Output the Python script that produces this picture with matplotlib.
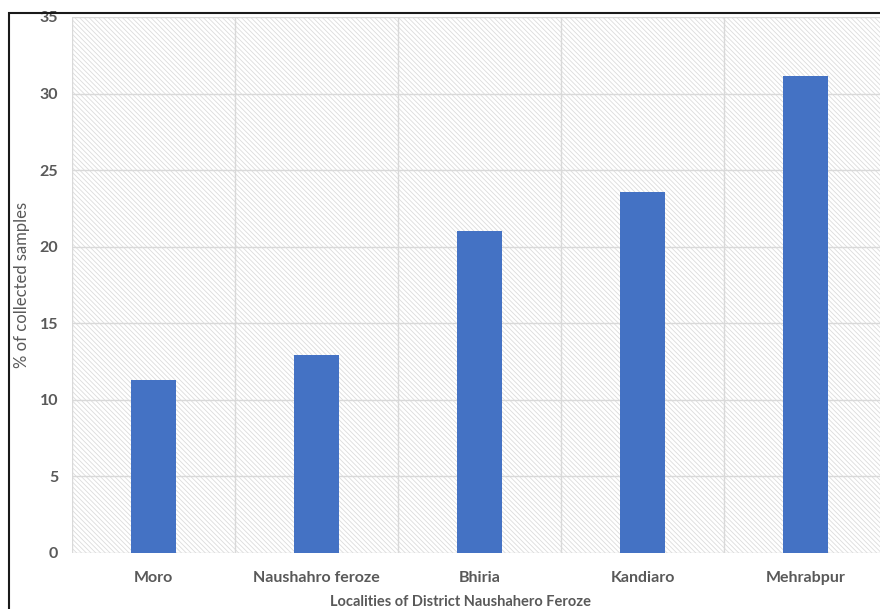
import matplotlib.pyplot as plt
from matplotlib.patches import Rectangle

localities = ['Moro', 'Naushahro feroze', 'Bhiria', 'Kandiaro', 'Mehrabpur']
percent_samples = [11.3, 12.9, 21.0, 23.6, 31.15]
y_ticks = [0, 5, 10, 15, 20, 25, 30, 35]

plt.rcParams['font.family'] = ['Lato', 'DejaVu Sans']
plt.rcParams['hatch.color'] = '#dcdcdc'
plt.rcParams['hatch.linewidth'] = 0.6

W, H = 880, 609
fig = plt.figure(figsize=(W / 100, H / 100), dpi=100)
ax = fig.add_axes([72 / W, 1 - 553 / H, (887 - 72) / W, (553 - 17) / H])

ax.patch.set_facecolor('white')
ax.patch.set_hatch('\\' * 7)
ax.patch.set_edgecolor('#dcdcdc')

x = range(len(localities))
ax.bar(x, percent_samples, width=0.28, color='#4472C4', zorder=3)

ax.set_xlim(-0.5, len(localities) - 0.5)
ax.set_ylim(0, 35)
ax.set_yticks(y_ticks)
ax.set_xticks(list(x))
ax.set_xticklabels(localities)
ax.set_xticks([i - 0.5 for i in range(len(localities) + 1)], minor=True)

ax.grid(True, axis='y', which='major', color='#d9d9d9', linewidth=1, zorder=1)
ax.grid(True, axis='x', which='minor', color='#d9d9d9', linewidth=1, zorder=1)
ax.set_axisbelow(True)
for s in ax.spines.values():
    s.set_visible(False)

ax.tick_params(axis='both', which='both', length=0)
ax.tick_params(axis='y', pad=10, labelsize=11.5, labelcolor='#595959')
ax.tick_params(axis='x', pad=13, labelsize=11.5, labelcolor='#595959')
for lab in ax.get_xticklabels() + ax.get_yticklabels():
    lab.set_fontweight('bold')

fig.text(22 / W, 1 - 285 / H, '% of collected samples', rotation=90,
         ha='center', va='center', fontsize=12, color='#595959')
fig.text(460 / W, 1 - 595 / H, 'Localities of District Naushahero Feroze',
         ha='center', va='top', fontsize=10.5, color='#595959', fontweight='bold')

# outer chart border (cropped on right and bottom)
fig.patches.append(Rectangle((9 / W, -0.1), 1.2, 1 - 12.5 / H + 0.1,
                             transform=fig.transFigure, fill=False,
                             edgecolor='#1a1a1a', linewidth=1.5))

fig.savefig('out.png', dpi=100)
